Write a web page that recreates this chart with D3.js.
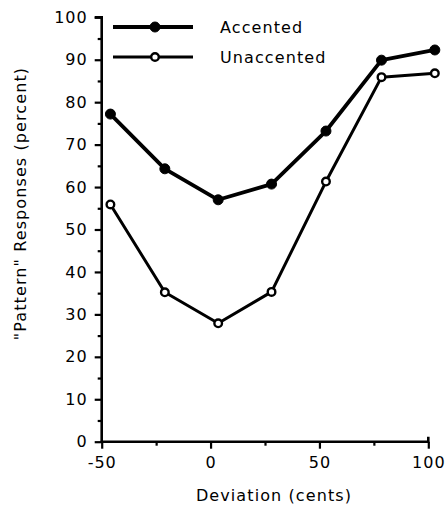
<!DOCTYPE html>
<html>
<head>
<meta charset="utf-8">
<script src="https://cdn.jsdelivr.net/npm/d3@7"></script>
<style>
  body { margin: 0; background: #fff; }
  svg { display: block; }
  text { font-family: "DejaVu Sans", sans-serif; fill: #000; }
</style>
</head>
<body>
<div id="chart"></div>
<script>
// Data
const deviations = [-46, -21, 3.5, 28, 53, 78.5, 103];
const accented = [77.2, 64.3, 57.0, 60.7, 73.2, 89.9, 92.3];
const unaccented = [55.9, 35.2, 27.9, 35.3, 61.3, 85.9, 86.8];
const seriesNames = ["Accented", "Unaccented"];
const xTicks = [-50, 0, 50, 100];
const xMinorTicks = [-25, 25, 75];
const yTicks = [0, 10, 20, 30, 40, 50, 60, 70, 80, 90, 100];
const yMinorTicks = [5, 15, 25, 35, 45, 55, 65, 75, 85, 95];

// Dimensions
const W = 448, H = 509;
const margin = {top: 17.3, right: 19.7, bottom: 67.3, left: 101.7};
const width = W - margin.left - margin.right;
const height = H - margin.top - margin.bottom;

const svg = d3.select("#chart")
    .append("svg")
    .attr("width", W)
    .attr("height", H);

const g = svg.append("g")
    .attr("transform", `translate(${margin.left},${margin.top})`);

// Scales
const x = d3.scaleLinear().domain([-50, 100]).range([0, width]);
const y = d3.scaleLinear().domain([0, 100]).range([height, 0]);

// plain hyphen instead of d3's unicode minus
const fmt = d => String(d);

// Y axis
const yAxis = g.append("g")
    .call(d3.axisLeft(y).tickValues(yTicks).tickSize(7).tickPadding(7).tickFormat(fmt));
const yMinor = g.append("g")
    .call(d3.axisLeft(y).tickValues(yMinorTicks).tickSize(4).tickFormat(""));

// X axis
const xAxis = g.append("g")
    .attr("transform", `translate(0,${height})`)
    .call(d3.axisBottom(x).tickValues(xTicks).tickSize(7).tickPadding(8).tickFormat(fmt));
const xMinor = g.append("g")
    .attr("transform", `translate(0,${height})`)
    .call(d3.axisBottom(x).tickValues(xMinorTicks).tickSize(4).tickFormat(""));

[yAxis, yMinor, xAxis, xMinor].forEach(a => {
    a.select(".domain").attr("stroke", "#000").attr("stroke-width", 2.6);
    a.selectAll(".tick line").attr("stroke", "#000").attr("stroke-width", 2.2);
    a.selectAll(".tick text")
        .style("font-family", "'DejaVu Sans', sans-serif")
        .style("font-size", "16px")
        .style("letter-spacing", "1px");
});
yMinor.select(".domain").remove();
xMinor.select(".domain").remove();
yAxis.select(".domain").attr("d", `M0,${height + 1}V0H-7`);
xAxis.select(".domain").attr("d", `M-1,0H${width}V-5`);

// Axis titles
svg.append("text")
    .attr("transform", `translate(26,${margin.top + height / 2 - 26}) rotate(-90)`)
    .attr("text-anchor", "middle")
    .style("font-size", "16px")
    .style("letter-spacing", "1.1px")
    .text("\"Pattern\" Responses (percent)");

svg.append("text")
    .attr("x", 274)
    .attr("y", 501)
    .attr("text-anchor", "middle")
    .style("font-size", "16px")
    .style("letter-spacing", "1.1px")
    .text("Deviation (cents)");

// Lines and markers
const seriesData = [accented, unaccented];
const strokeW = [3.8, 3];
const line = d3.line()
    .x((d, i) => x(deviations[i]))
    .y(d => y(d));

seriesData.forEach((vals, s) => {
    g.append("path")
        .datum(vals)
        .attr("fill", "none")
        .attr("stroke", "#000")
        .attr("stroke-width", strokeW[s])
        .attr("stroke-linejoin", "round")
        .attr("d", line);
    g.selectAll(".pt" + s)
        .data(vals)
        .enter()
        .append("circle")
        .attr("class", "pt" + s)
        .attr("cx", (d, i) => x(deviations[i]))
        .attr("cy", d => y(d))
        .attr("r", s === 0 ? 5 : 3.8)
        .attr("fill", s === 0 ? "#000" : "#fff")
        .attr("stroke", "#000")
        .attr("stroke-width", s === 0 ? 1 : 2.4);
});

// Legend
const legend = svg.append("g");
seriesNames.forEach((name, s) => {
    const ly = 27 + s * 30;
    legend.append("line")
        .attr("x1", 113).attr("x2", 193)
        .attr("y1", ly).attr("y2", ly)
        .attr("stroke", "#000")
        .attr("stroke-width", strokeW[s]);
    legend.append("circle")
        .attr("cx", 155).attr("cy", ly)
        .attr("r", s === 0 ? 5 : 3.8)
        .attr("fill", s === 0 ? "#000" : "#fff")
        .attr("stroke", "#000")
        .attr("stroke-width", s === 0 ? 1 : 2.4);
    legend.append("text")
        .attr("x", 220)
        .attr("y", ly + 6)
        .style("font-size", "16px")
        .style("letter-spacing", "1.1px")
        .text(name);
});
</script>
</body>
</html>
